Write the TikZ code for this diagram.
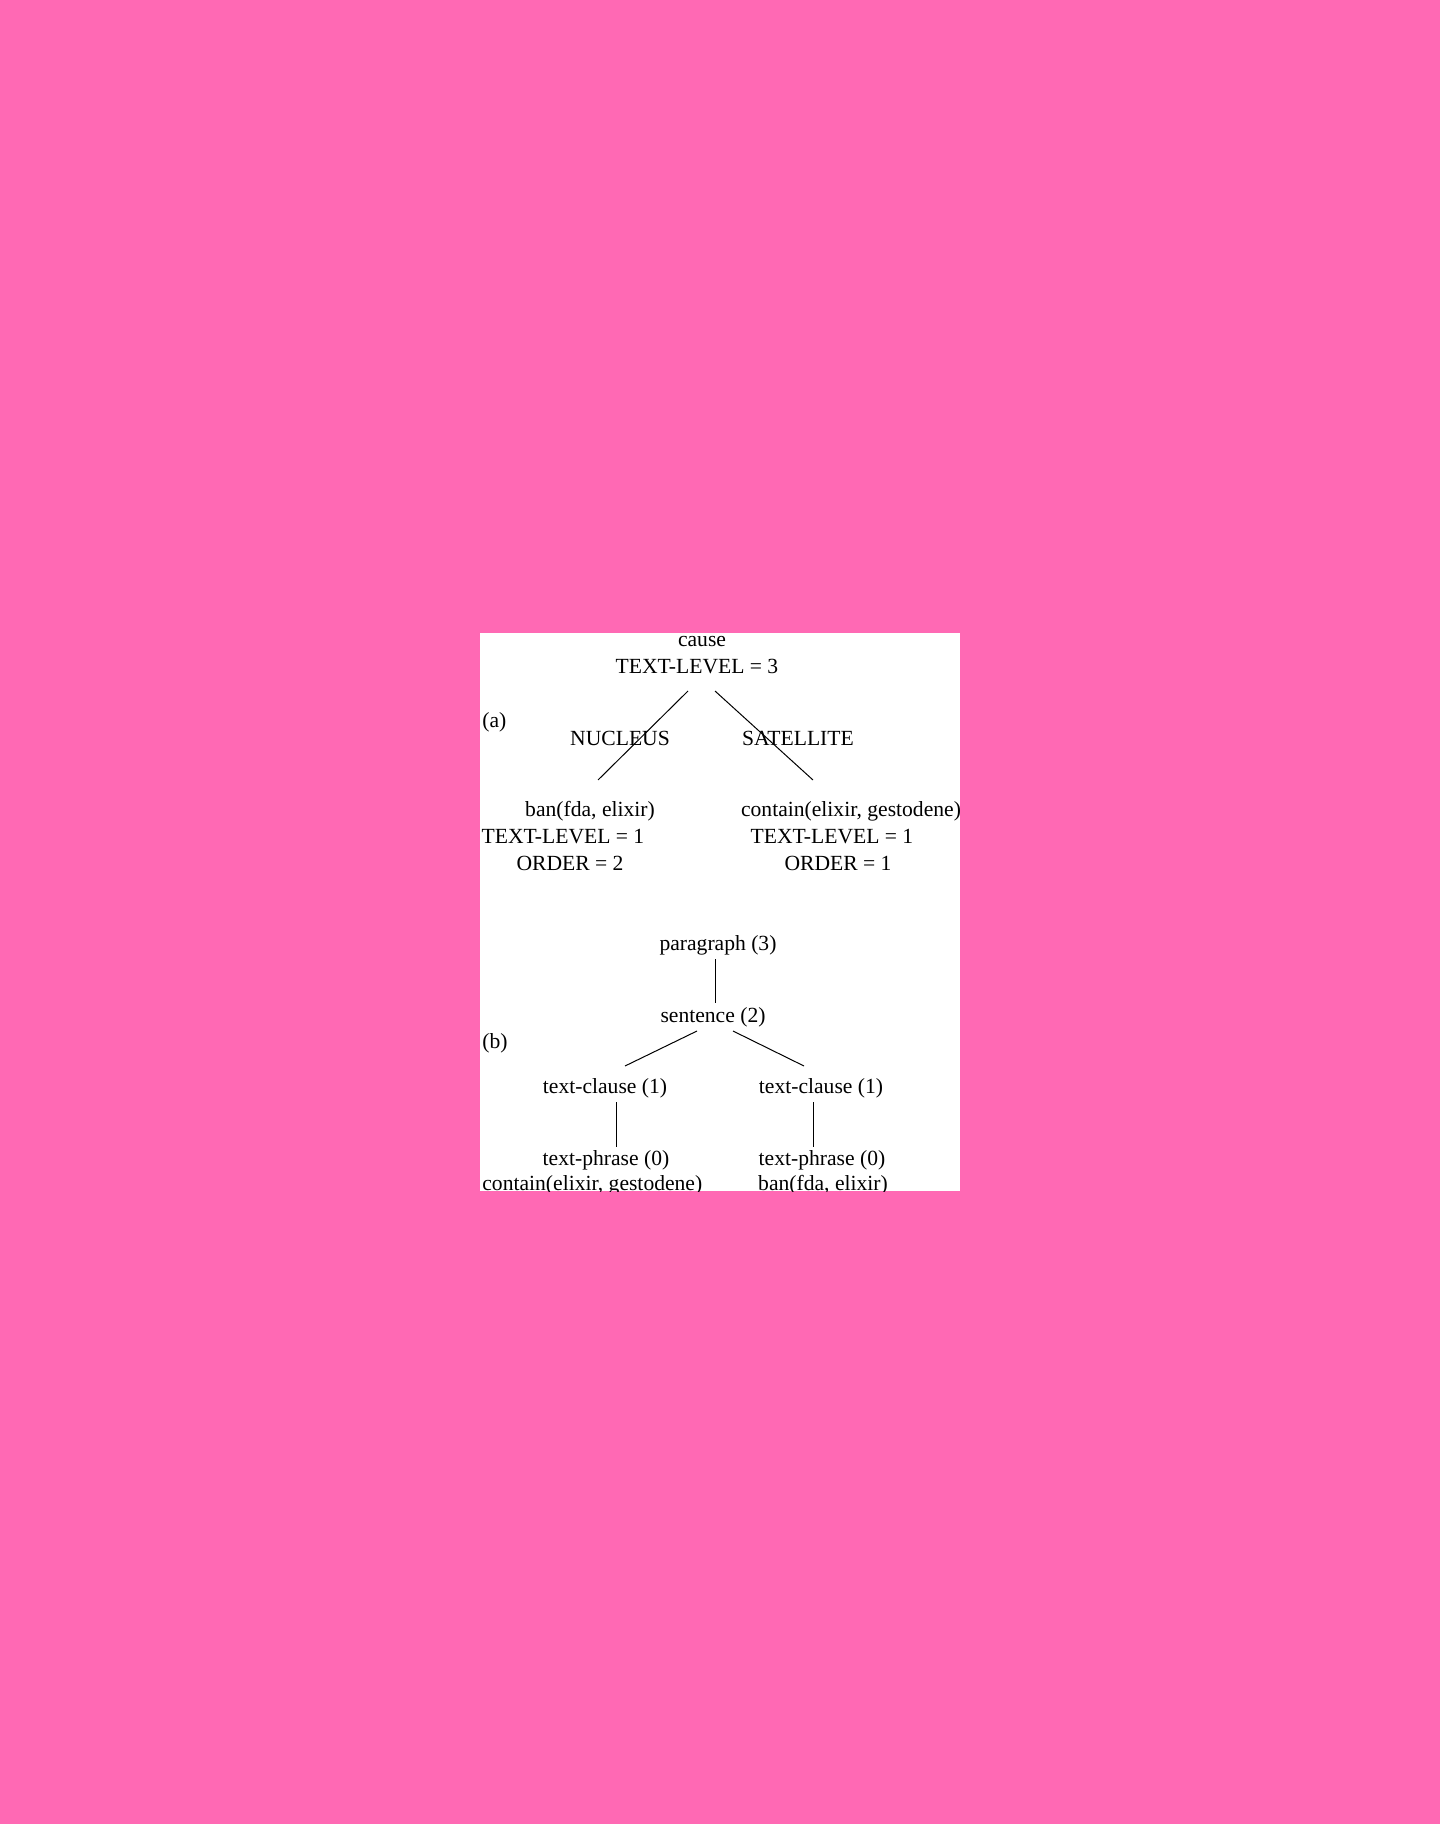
\documentclass[tikz,border=0pt]{standalone}
\usepackage{fontspec}
\setmainfont{Liberation Serif}
\definecolor{bgpink}{RGB}{255,105,180}
\begin{document}
\begin{tikzpicture}[x=0.5pt,y=-0.5pt,
  lbl/.style={inner sep=0pt,anchor=base,font=\fontsize{10.8}{12}\selectfont},
  lblw/.style={inner sep=0pt,anchor=base west,font=\fontsize{10.8}{12}\selectfont},
  edge/.style={draw=black,line width=0.5pt}]
\useasboundingbox (0,0) rectangle (1440,1824);
\fill[bgpink] (0,0) rectangle (1440,1824);
\fill[white] (480,633) rectangle (960,1191);
\begin{scope}
\clip (480,633) rectangle (960,1191);
% (a)
\node[lbl] (cause) at (702,646) {cause};
\node[lbl] (tl3) at (697,673) {TEXT-LEVEL = 3};
\node[lblw] (a) at (482,727) {(a)};
\node[lbl] (nuc) at (620,745) {NUCLEUS};
\node[lbl] (sat) at (798,745) {SATELLITE};
\node[lbl] (ban) at (590,816) {ban(fda, elixir)};
\node[lbl] (cont) at (851,816) {contain(elixir, gestodene)};
\node[lbl] (tl1a) at (563,843) {TEXT-LEVEL = 1};
\node[lbl] (tl1b) at (832,843) {TEXT-LEVEL = 1};
\node[lbl] (or2) at (570,870) {ORDER = 2};
\node[lbl] (or1) at (838,870) {ORDER = 1};
\coordinate (ta1) at (688,691);
\coordinate (ta2) at (715,691);
\coordinate (ba1) at (598,780);
\coordinate (ba2) at (813,780);
\draw[edge] (ta1) -- (ba1);
\draw[edge] (ta2) -- (ba2);
% (b)
\node[lbl] (par) at (718,950) {paragraph (3)};
\node[lbl] (sen) at (713,1022) {sentence (2)};
\node[lblw] (b) at (482,1048) {(b)};
\node[lbl] (tc1) at (605,1093) {text-clause (1)};
\node[lbl] (tc2) at (821,1093) {text-clause (1)};
\node[lbl] (tp1) at (606,1165) {text-phrase (0)};
\node[lbl] (tp2) at (822,1165) {text-phrase (0)};
\node[lblw] (c1) at (482,1190) {contain(elixir, gestodene)};
\node[lbl] (b1) at (823,1190) {ban(fda, elixir)};
\coordinate (p1) at (715,959);
\coordinate (p2) at (715,1003);
\coordinate (s1) at (697,1031);
\coordinate (s2) at (733,1031);
\coordinate (s3) at (625,1066);
\coordinate (s4) at (804,1066);
\coordinate (c1t) at (616,1102);
\coordinate (c1b) at (616,1147);
\coordinate (c2t) at (813,1102);
\coordinate (c2b) at (813,1147);
\draw[edge] (p1) -- (p2);
\draw[edge] (s1) -- (s3);
\draw[edge] (s2) -- (s4);
\draw[edge] (c1t) -- (c1b);
\draw[edge] (c2t) -- (c2b);
\end{scope}
\end{tikzpicture}
\end{document}
